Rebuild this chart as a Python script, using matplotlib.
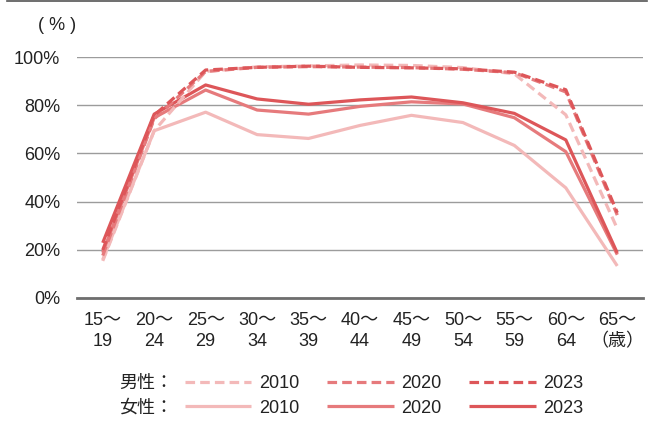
import matplotlib
matplotlib.use("Agg")
import matplotlib.pyplot as plt
from matplotlib.lines import Line2D

plt.rcParams['font.family'] = ['Liberation Sans', 'Noto Sans CJK JP', 'DejaVu Sans']

# Age groups (labour force participation rate, %)
age_groups = ["15～\n19", "20～\n24", "25～\n29", "30～\n34", "35～\n39", "40～\n44",
              "45～\n49", "50～\n54", "55～\n59", "60～\n64", "65～\n（歳）"]

male_2010 = [15.4, 69.4, 94.0, 95.9, 96.3, 96.7, 96.5, 95.6, 93.0, 76.0, 28.8]
male_2020 = [17.6, 74.3, 94.0, 95.7, 96.0, 95.8, 95.6, 94.9, 93.5, 85.5, 34.4]
male_2023 = [19.9, 75.8, 94.6, 95.7, 96.2, 95.7, 95.5, 95.1, 93.7, 86.4, 35.4]

female_2010 = [15.9, 69.4, 77.1, 67.8, 66.2, 71.6, 75.8, 72.8, 63.3, 45.7, 13.3]
female_2020 = [18.8, 74.8, 86.3, 78.0, 76.3, 79.5, 81.4, 80.5, 74.8, 60.7, 18.0]
female_2023 = [22.9, 76.3, 88.4, 82.6, 80.4, 82.2, 83.4, 81.0, 76.6, 65.6, 18.7]

years = ["2010", "2020", "2023"]
y_ticks = [0, 20, 40, 60, 80, 100]

c_light = "#f3b9b9"
c_mid = "#e67a7c"
c_dark = "#dd5659"
c_text = "#222222"
fs = 13

fig = plt.figure(figsize=(6.53, 4.21), dpi=100)
ax = fig.add_axes([77 / 653, 1 - 298 / 421, 566 / 653, 241 / 421])

x = list(range(len(age_groups)))
lw = 2.3
dash = (3.0, 1.6)

lf1, = ax.plot(x, female_2010, color=c_light, lw=lw, solid_capstyle="butt", zorder=3)
lf2, = ax.plot(x, female_2020, color=c_mid, lw=lw, solid_capstyle="butt", zorder=4)
lf3, = ax.plot(x, female_2023, color=c_dark, lw=lw, solid_capstyle="butt", zorder=5)
lm1, = ax.plot(x, male_2010, color=c_light, lw=lw, dashes=dash, zorder=6)
lm2, = ax.plot(x, male_2020, color=c_mid, lw=lw, dashes=dash, zorder=7)
lm3, = ax.plot(x, male_2023, color=c_dark, lw=lw, dashes=dash, zorder=8)

ax.set_xlim(-0.5, len(age_groups) - 0.5)
ax.set_ylim(0, 100)
ax.set_yticks(y_ticks)
ax.set_yticklabels([f"{v}%" for v in y_ticks], fontsize=fs, color=c_text)
ax.set_xticks(x)
ax.set_xticklabels(age_groups, fontsize=fs, color=c_text, linespacing=1.35)
ax.tick_params(axis="both", length=0)
ax.tick_params(axis="y", pad=12)
ax.tick_params(axis="x", pad=10)

for s in ["top", "right", "left"]:
    ax.spines[s].set_visible(False)
ax.spines["bottom"].set_color("#6e6e6e")
ax.spines["bottom"].set_linewidth(2.0)
ax.yaxis.grid(True, color="#9c9c9c", lw=1.0)
ax.set_axisbelow(True)

fig.text(57 / 653, 1 - 25 / 421, "( % )", fontsize=fs, ha="center", va="center", color=c_text)

leg = ax.legend(handles=[lm1, lf1, lm2, lf2, lm3, lf3],
                labels=[years[0], years[0], years[1], years[1], years[2], years[2]],
                ncol=3, frameon=False, fontsize=fs,
                loc="center left", bbox_to_anchor=(172 / 653, 1 - 396 / 421),
                bbox_transform=fig.transFigure,
                handlelength=3.7, handletextpad=0.4, columnspacing=1.55,
                labelspacing=0.4, borderpad=0.2)
for t in leg.get_texts():
    t.set_color(c_text)

fig.text(146 / 653, 1 - 383 / 421, "男性：", fontsize=fs, ha="center", va="center", color=c_text)
fig.text(146 / 653, 1 - 408 / 421, "女性：", fontsize=fs, ha="center", va="center", color=c_text)

fig.add_artist(Line2D([7 / 653, 647 / 653], [1 - 0.6 / 421] * 2, color="#555555", lw=1.2,
                      transform=fig.transFigure))

fig.savefig("out.png", dpi=100)
